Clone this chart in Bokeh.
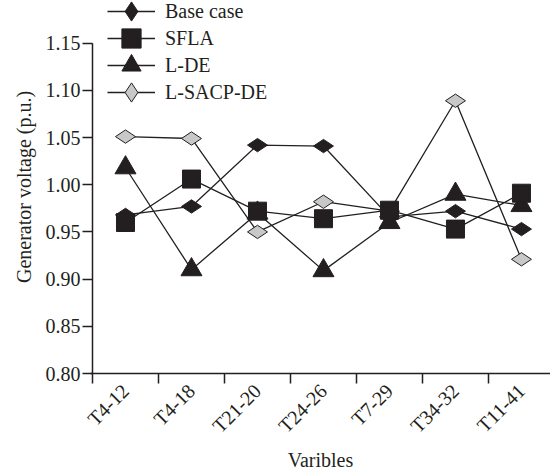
import math
from bokeh.plotting import figure
from bokeh.models import FixedTicker, Legend, LegendItem, NumeralTickFormatter
from bokeh.embed import file_html
from bokeh.resources import INLINE

categories = ["T4-12", "T4-18", "T21-20", "T24-26", "T7-29", "T34-32", "T11-41"]
base_case = [0.968, 0.977, 1.042, 1.041, 0.966, 0.972, 0.953]
sfla = [0.960, 1.006, 0.972, 0.964, 0.973, 0.953, 0.991]
l_de = [1.018, 0.910, 0.970, 0.909, 0.960, 0.990, 0.978]
l_sacp_de = [1.051, 1.049, 0.950, 0.982, 0.972, 1.089, 0.921]
y_ticks = [0.80, 0.85, 0.90, 0.95, 1.00, 1.05, 1.10, 1.15]
legend_labels = ["Base case", "SFLA", "L-DE", "L-SACP-DE"]

xs = list(range(len(categories)))
INK = "#231f20"
FONT = "Liberation Serif"
FS = "20px"

FRAME_H = 376
AXIS_X = -0.5
X0 = AXIS_X - 2 / 66.0
p = figure(width=550, height=473, output_backend="svg", toolbar_location=None,
           x_range=(X0, 6.44), y_range=(0.80, 0.80 + FRAME_H / 951.4),
           min_border_left=90, min_border_right=0, min_border_top=0, min_border_bottom=97)
p.outline_line_color = None
p.xgrid.visible = False
p.ygrid.visible = False

def add_series(vals, marker, size, fill, angle=0.0):
    ln = p.line(xs, vals, line_color=INK, line_width=1.3)
    sc = p.scatter(xs, vals, marker=marker, size=size, fill_color=fill,
                   line_color=INK, line_width=1, angle=angle)
    return ln, sc

# visible y-axis line from the lowest to the highest tick
p.segment(x0=[AXIS_X], y0=[y_ticks[0]], x1=[AXIS_X], y1=[y_ticks[-1]],
          line_color=INK, line_width=1.5)

r_base = add_series(base_case, "diamond", 20, INK, math.pi / 2)
r_lde = add_series(l_de, "triangle", 21, INK)
r_lsacp = add_series(l_sacp_de, "diamond", 20, "#c8c8c8", math.pi / 2)
r_sfla = add_series(sfla, "square", 18, INK)

# one legend per entry so that rows can sit close while markers stay large
for i, (lab, rends) in enumerate(zip(legend_labels, [r_base, r_sfla, r_lde, r_lsacp])):
    center = 14 + 27 * i
    lg = Legend(items=[LegendItem(label=lab, renderers=list(rends))],
                location=(17, int(round(FRAME_H - center - 25))),
                padding=0, margin=0, spacing=0,
                glyph_width=48, glyph_height=50, label_height=20, label_standoff=10,
                label_text_font=FONT, label_text_font_size=FS, label_text_color=INK,
                border_line_color=None, background_fill_alpha=0)
    p.add_layout(lg, "center")

# y axis
p.yaxis.ticker = FixedTicker(ticks=y_ticks)
p.yaxis.formatter = NumeralTickFormatter(format="0.00")
p.yaxis.major_label_text_font = FONT
p.yaxis.major_label_text_font_size = FS
p.yaxis.major_label_text_color = INK
p.yaxis.axis_line_color = None
p.yaxis.major_tick_line_color = INK
p.yaxis.major_tick_line_width = 1.5
p.yaxis.major_tick_out = 8
p.yaxis.major_tick_in = 2
p.yaxis.minor_tick_line_color = None
p.yaxis.major_label_standoff = 2
p.yaxis.axis_label = "Generator voltage (p.u.)"
p.yaxis.axis_label_text_font = FONT
p.yaxis.axis_label_text_font_size = FS
p.yaxis.axis_label_text_font_style = "normal"
p.yaxis.axis_label_text_color = INK
p.yaxis.axis_label_standoff = 8

# x axis
boundaries = [i - 0.5 for i in range(len(categories))]
p.xaxis.ticker = FixedTicker(ticks=xs, minor_ticks=boundaries)
p.xaxis.major_label_overrides = {i: c for i, c in zip(xs, categories)}
p.xaxis.major_label_orientation = math.pi / 4
p.xaxis.major_label_text_font = FONT
p.xaxis.major_label_text_font_size = FS
p.xaxis.major_label_text_color = INK
p.xaxis.major_label_standoff = 4
p.xaxis.major_tick_line_color = None
p.xaxis.major_tick_out = 10
p.xaxis.minor_tick_line_color = INK
p.xaxis.minor_tick_line_width = 1.5
p.xaxis.minor_tick_out = 10
p.xaxis.minor_tick_in = 0
p.xaxis.axis_line_color = INK
p.xaxis.axis_line_width = 1.5
p.xaxis.axis_label = "Varibles"
p.xaxis.axis_label_text_font = FONT
p.xaxis.axis_label_text_font_size = FS
p.xaxis.axis_label_text_font_style = "normal"
p.xaxis.axis_label_text_color = INK
p.xaxis.axis_label_standoff = 1

open("out.html", "w").write(file_html(p, INLINE))
